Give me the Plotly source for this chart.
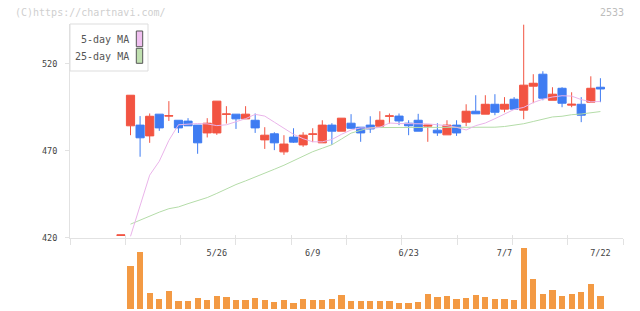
import plotly.graph_objects as go

# ---------------- data ----------------
dates = ["5/12", "5/13", "5/14", "5/15", "5/16", "5/19", "5/20", "5/21", "5/22", "5/23",
         "5/26", "5/27", "5/28", "5/29", "5/30", "6/2", "6/3", "6/4", "6/5", "6/6",
         "6/9", "6/10", "6/11", "6/12", "6/13", "6/16", "6/17", "6/18", "6/19", "6/20",
         "6/23", "6/24", "6/25", "6/26", "6/27", "6/30", "7/1", "7/2", "7/3", "7/4",
         "7/7", "7/8", "7/9", "7/10", "7/11", "7/14", "7/15", "7/16", "7/17", "7/18",
         "7/22"]

opens = [421.3, 484.4, 484.8, 478.6, 491.1, 490.0, 487.6, 487.1, 484.8, 480.3,
         480.3, 491.0, 491.1, 488.4, 487.6, 476.3, 479.8, 469.4, 477.9, 473.4,
         479.5, 474.6, 484.8, 481.3, 485.9, 483.6, 484.8, 484.2, 489.9, 490.0,
         485.9, 487.6, 484.2, 481.9, 479.2, 484.8, 486.5, 492.8, 491.1, 496.8,
         494.0, 499.7, 493.4, 507.2, 514.1, 499.1, 506.0, 496.3, 496.8, 498.0,
         506.6]
highs = [421.6, 502.0, 490.0, 491.5, 491.1, 498.6, 487.6, 488.8, 484.8, 488.8,
         498.6, 495.7, 491.1, 495.7, 491.5, 483.6, 480.7, 479.0, 483.0, 480.7,
         483.0, 487.6, 485.9, 488.8, 491.1, 483.6, 489.9, 492.8, 491.5, 491.5,
         487.6, 491.3, 484.8, 485.9, 487.6, 487.6, 496.8, 502.0, 502.0, 502.6,
         500.9, 500.9, 542.6, 514.1, 515.8, 506.6, 506.6, 503.7, 500.9, 512.9,
         511.8]
lows = [421.3, 479.0, 466.6, 474.6, 481.5, 487.2, 480.3, 484.4, 468.3, 477.7,
        479.2, 485.7, 482.6, 488.4, 480.3, 471.1, 470.4, 467.7, 474.6, 472.3,
        475.0, 474.6, 473.4, 481.3, 482.6, 475.2, 480.3, 484.2, 485.7, 484.8,
        479.0, 481.3, 475.2, 478.6, 479.2, 478.6, 484.2, 491.3, 491.1, 490.5,
        492.2, 494.0, 488.2, 497.4, 499.1, 499.1, 495.1, 495.1, 486.5, 498.0,
        498.0]
closes = [421.6, 502.0, 477.5, 489.9, 483.2, 490.2, 483.2, 484.4, 474.6, 485.9,
          498.6, 491.2, 488.4, 491.1, 483.2, 479.0, 474.6, 473.9, 475.0, 479.0,
          479.7, 484.8, 481.3, 488.8, 483.0, 480.3, 482.6, 487.6, 490.1, 487.2,
          484.4, 481.3, 484.8, 480.3, 484.8, 480.3, 492.8, 491.3, 496.8, 492.2,
          496.8, 494.0, 507.8, 508.9, 500.3, 502.6, 497.4, 496.8, 490.5, 506.0,
          505.6]

# volume (thousand shares), from 5/13 on
volumes = [130, 171, 48, 30, 54, 24, 24, 33, 27, 39,
           36, 27, 27, 33, 27, 21, 27, 18, 30, 27,
           27, 30, 42, 24, 24, 24, 24, 24, 18, 18,
           21, 45, 36, 39, 30, 33, 42, 36, 30, 30,
           27, 183, 90, 45, 57, 39, 45, 51, 75, 39]

# moving averages, from 5/13 on
ma5 = [420.8, 439.0, 456.0, 464.0, 476.0, 485.0, 485.5, 485.7, 485.5, 484.5,
       485.0, 486.7, 488.5, 491.0, 490.0, 486.5, 483.0, 479.5, 477.0, 475.2,
       475.2, 476.5, 479.5, 482.0, 483.2, 483.0, 483.5, 486.0, 485.7, 485.7,
       485.8, 485.5, 485.0, 484.5, 483.5, 482.0, 484.5, 486.0, 488.5, 491.0,
       493.8, 495.0, 497.8, 499.7, 501.0, 501.7, 501.5, 499.5, 498.2, 498.4]
ma25 = [427.8, 430.2, 432.5, 434.7, 436.7, 437.7, 439.6, 441.3, 443.1, 445.5,
        448.1, 450.6, 452.7, 454.8, 457.2, 459.4, 461.7, 464.2, 467.1, 469.5,
        471.5, 473.5, 476.8, 480.2, 481.8, 483.3, 483.4, 483.4, 483.4, 483.4,
        483.4, 483.4, 483.4, 483.5, 483.5, 483.5, 483.5, 483.6, 483.6, 484.0,
        484.8, 485.6, 486.9, 488.3, 489.5, 489.9, 490.8, 491.2, 491.7, 492.6]

date_labels = ["5/26", "6/9", "6/23", "7/7", "7/22"]
price_ticks = [420, 470, 520]
legend_names = ["5-day MA", "25-day MA"]
code_label = "2533"
credit = "(C)https://chartnavi.com/"

# ---------------- styling ----------------
W, H = 640, 311
RED = "#f25442"
BLUE = "#3f7cf2"
ORANGE = "#f39a44"
PINK = "#eab4ea"
GREEN = "#b4dca8"
AXIS = "#e2e2e2"
FONT = "DejaVu Sans Mono"

x_all = list(range(len(dates)))
x_vol = x_all[1:]
step_px = 9.59
first_px = 120.91
left_px, right_px = 70, 623
x_lo = (left_px - first_px) / step_px
x_hi = (right_px - first_px) / step_px
x_range = [x_lo, x_hi]
grid_ticks = [x_lo + k * (x_hi - x_lo) / 10 for k in range(11)]
label_pos = [dates.index(d) for d in date_labels]

def py(px):  # pixel from top -> paper y
    return 1 - px / H

def pxx(px):
    return px / W

fig = go.Figure()

fig.add_trace(go.Scatter(x=x_vol, y=ma25, mode="lines", line=dict(color=GREEN, width=1),
                         name=legend_names[1], showlegend=False, hoverinfo="skip"))
fig.add_trace(go.Scatter(x=x_vol, y=ma5, mode="lines", line=dict(color=PINK, width=1),
                         name=legend_names[0], showlegend=False, hoverinfo="skip"))
fig.add_trace(go.Candlestick(
    x=x_all, open=opens, high=highs, low=lows, close=closes,
    increasing=dict(line=dict(color=RED, width=1), fillcolor=RED),
    decreasing=dict(line=dict(color=BLUE, width=1), fillcolor=BLUE),
    whiskerwidth=0, showlegend=False))
fig.add_trace(go.Bar(x=x_vol, y=volumes, width=0.65, marker=dict(color=ORANGE, line=dict(width=0)),
                     xaxis="x2", yaxis="y2", showlegend=False))
fig.add_trace(go.Scatter(x=[], y=[], xaxis="x3", yaxis="y", showlegend=False))
fig.add_trace(go.Scatter(x=[], y=[], xaxis="x4", yaxis="y", showlegend=False))

xdom = [pxx(left_px), pxx(right_px)]
ydom = [py(237.7), py(24)]
vdom = [py(309), py(248)]

fig.update_layout(
    width=W, height=H, margin=dict(l=0, r=0, t=0, b=0, pad=0),
    paper_bgcolor="white", plot_bgcolor="white",
    boxgap=0.15, boxgroupgap=0, bargap=0,
    showlegend=False,
    xaxis=dict(domain=xdom, anchor="y", range=x_range, rangeslider=dict(visible=False),
               tickmode="array", tickvals=label_pos, ticktext=date_labels,
               ticks="outside", ticklen=7, tickcolor="rgba(0,0,0,0)",
               showline=True, linecolor=AXIS, linewidth=1, showgrid=False, zeroline=False,
               tickfont=dict(family=FONT, size=8.5, color="#444"), automargin=False,
               fixedrange=True),
    xaxis3=dict(overlaying="x", anchor="y", range=x_range, tickmode="array", tickvals=grid_ticks,
                ticks="outside", ticklen=6, tickcolor=AXIS, tickwidth=1, showticklabels=False,
                showline=False, showgrid=False, zeroline=False, automargin=False),
    xaxis4=dict(overlaying="x", anchor="y", range=x_range, tickmode="array", tickvals=grid_ticks,
                ticks="inside", ticklen=3, tickcolor=AXIS, tickwidth=1, showticklabels=False,
                showline=False, showgrid=False, zeroline=False, automargin=False),
    yaxis=dict(domain=ydom, anchor="x", range=[420, 543], tickmode="array", tickvals=price_ticks,
               ticks="outside", ticklen=4, tickcolor=AXIS, showline=True, linecolor=AXIS,
               linewidth=1, showgrid=False, zeroline=False, ticklabelstandoff=6,
               tickfont=dict(family=FONT, size=8.5, color="#444"), automargin=False,
               fixedrange=True),
    xaxis2=dict(domain=xdom, anchor="y2", range=x_range, visible=False),
    yaxis2=dict(domain=vdom, anchor="x2", range=[0, 183], visible=False),
)

# legend box (drawn as layout shapes + text)
fig.add_shape(type="rect", xref="paper", yref="paper", x0=pxx(70), x1=pxx(148), y0=py(71), y1=py(24),
              line=dict(color="#dddddd", width=1), fillcolor="white", layer="above")
fig.add_shape(type="rect", xref="paper", yref="paper", x0=pxx(136.3), x1=pxx(142.7), y0=py(46.7), y1=py(31),
              line=dict(color="#555555", width=1), fillcolor="#f0c0f0", layer="above")
fig.add_shape(type="rect", xref="paper", yref="paper", x0=pxx(136.3), x1=pxx(142.7), y0=py(63.3), y1=py(48.3),
              line=dict(color="#555555", width=1), fillcolor="#c0e0b0", layer="above")
for name, yc in zip(legend_names, [39.5, 56.5]):
    fig.add_annotation(text=name, xref="paper", yref="paper", x=pxx(131), y=py(yc),
                       xanchor="right", yanchor="middle", showarrow=False,
                       font=dict(family=FONT, size=10, color="#555"))

fig.add_annotation(text=credit, xref="paper", yref="paper", x=pxx(13), y=py(12.5),
                   xanchor="left", yanchor="middle", showarrow=False,
                   font=dict(family=FONT, size=10, color="#cfcfcf"))
fig.add_annotation(text=code_label, xref="paper", yref="paper", x=pxx(626), y=py(12.5),
                   xanchor="right", yanchor="middle", showarrow=False,
                   font=dict(family=FONT, size=10, color="#bdbdbd"))

fig.write_html("out.html")
